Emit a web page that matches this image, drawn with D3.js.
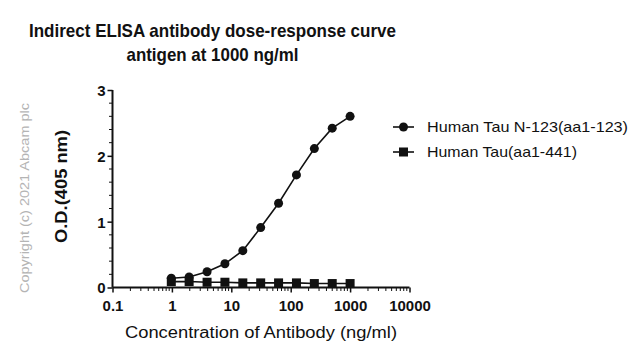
<!DOCTYPE html>
<html><head><meta charset="utf-8">
<script src="https://cdn.jsdelivr.net/npm/d3@7"></script>
<style>body{margin:0;background:#fff}svg{display:block}</style>
</head><body>
<svg id="c" width="642" height="358"></svg>
<script>
const concentrations = [0.977, 1.95, 3.91, 7.81, 15.63, 31.25, 62.5, 125, 250, 500, 1000];
const tauN123 = [0.14, 0.16, 0.24, 0.36, 0.56, 0.91, 1.28, 1.71, 2.11, 2.42, 2.60];
const tauFull = [0.09, 0.09, 0.08, 0.08, 0.07, 0.07, 0.07, 0.07, 0.06, 0.06, 0.06];
const seriesNames = ["Human Tau N-123(aa1-123)", "Human Tau(aa1-441)"];
const xTickValues = [0.1, 1, 10, 100, 1000, 10000];
const yTickValues = [0, 1, 2, 3];
const titleLines = ["Indirect ELISA antibody dose-response curve", "antigen at 1000 ng/ml"];

const svg = d3.select("#c");
const font = "'Liberation Sans', Arial, sans-serif";
const x = d3.scaleLog().domain([0.1, 10000]).range([112.5, 409.5]);
const y = d3.scaleLinear().domain([0, 3]).range([287.5, 90]);

// title
const titleLens = [367, 172];
svg.append("g").selectAll("text").data(titleLines).join("text")
  .attr("x", 212.5).attr("y", (d, i) => 37 + i * 23.5)
  .attr("text-anchor", "middle").attr("font-family", font).attr("font-weight", "bold")
  .attr("font-size", 18.5).attr("fill", "#111")
  .attr("textLength", (d, i) => titleLens[i]).attr("lengthAdjust", "spacingAndGlyphs")
  .text(d => d);

// copyright
svg.append("text").attr("transform", "translate(29,198) rotate(-90)")
  .attr("text-anchor", "middle").attr("font-family", font).attr("font-size", 13)
  .attr("textLength", 190).attr("lengthAdjust", "spacingAndGlyphs")
  .attr("fill", "#b4b4b4").text("Copyright (c) 2021 Abcam plc");

// y label
svg.append("text").attr("transform", "translate(67,186.5) rotate(-90)")
  .attr("text-anchor", "middle").attr("font-family", font).attr("font-weight", "bold")
  .attr("font-size", 16.5).attr("textLength", 113).attr("lengthAdjust", "spacingAndGlyphs")
  .attr("fill", "#111").text("O.D.(405 nm)");

// x label
svg.append("text").attr("x", 261).attr("y", 338).attr("text-anchor", "middle")
  .attr("font-family", font).attr("font-size", 16).attr("fill", "#111")
  .attr("textLength", 272).attr("lengthAdjust", "spacingAndGlyphs")
  .text("Concentration of Antibody (ng/ml)");

// minor ticks
const xMinor = [];
for (let e = -1; e < 4; e++) for (let m = 2; m <= 9; m++) xMinor.push(m * Math.pow(10, e));
svg.append("g").selectAll("line").data(xMinor).join("line")
  .attr("x1", d => x(d)).attr("x2", d => x(d)).attr("y1", 287.5).attr("y2", 291)
  .attr("stroke", "#111").attr("stroke-width", 1);
const yMinor = d3.range(0, 3.01, 0.2).filter(v => Math.abs(v - Math.round(v)) > 1e-6);
svg.append("g").selectAll("line").data(yMinor).join("line")
  .attr("x1", 109).attr("x2", 112.5).attr("y1", d => y(d)).attr("y2", d => y(d))
  .attr("stroke", "#111").attr("stroke-width", 1);

// axes
const xAxis = svg.append("g").attr("transform", "translate(0,287.5)")
  .call(d3.axisBottom(x).tickValues(xTickValues).tickFormat(d3.format("~g")).tickSize(5).tickSizeOuter(0));
const yAxis = svg.append("g").attr("transform", "translate(112.5,0)")
  .call(d3.axisLeft(y).tickValues(yTickValues).tickFormat(d3.format("d")).tickSize(5).tickSizeOuter(0));
[xAxis, yAxis].forEach(a => {
  a.select(".domain").attr("stroke", "#111").attr("stroke-width", 2);
  a.selectAll(".tick line").attr("stroke", "#111").attr("stroke-width", 1.5);
  a.selectAll("text").attr("font-family", font).attr("font-weight", "bold")
    .attr("font-size", 15).attr("fill", "#111");
});
xAxis.selectAll("text").attr("dy", "1em").attr("y", 8);
yAxis.selectAll("text").attr("x", -7).attr("dy", "0.36em");
yAxis.select(".domain").attr("d", `M0,${y(3)}V${y(0)}`);
xAxis.select(".domain").attr("d", `M${x(0.1)},0H${x(10000)}`);

// series
const line = d3.line().x(d => x(d[0])).y(d => y(d[1]));
const s1 = concentrations.map((c, i) => [c, tauN123[i]]);
const s2 = concentrations.map((c, i) => [c, tauFull[i]]);
svg.append("path").datum(s1).attr("d", line).attr("fill", "none").attr("stroke", "#111").attr("stroke-width", 1.6);
svg.append("g").selectAll("circle").data(s1).join("circle")
  .attr("cx", d => x(d[0])).attr("cy", d => y(d[1])).attr("r", 4.5).attr("fill", "#111");
svg.append("path").datum(s2).attr("d", line).attr("fill", "none").attr("stroke", "#111").attr("stroke-width", 1.6);
svg.append("g").selectAll("rect").data(s2).join("rect")
  .attr("x", d => x(d[0]) - 4.5).attr("y", d => y(d[1]) - 4.5).attr("width", 9).attr("height", 9).attr("fill", "#111");

// legend
const legendLens = [201, 150];
const lg = svg.append("g");
seriesNames.forEach((n, i) => {
  const ly = 127 + i * 25;
  lg.append("line").attr("x1", 393).attr("x2", 414).attr("y1", ly).attr("y2", ly)
    .attr("stroke", "#111").attr("stroke-width", 1.6);
  if (i === 0) lg.append("circle").attr("cx", 403.5).attr("cy", ly).attr("r", 4.5).attr("fill", "#111");
  else lg.append("rect").attr("x", 399).attr("y", ly - 4.5).attr("width", 9).attr("height", 9).attr("fill", "#111");
  lg.append("text").attr("x", 427).attr("y", ly).attr("dy", "0.36em")
    .attr("font-family", font).attr("font-size", 15).attr("fill", "#111")
    .attr("textLength", legendLens[i]).attr("lengthAdjust", "spacingAndGlyphs").text(n);
});
</script>
</body></html>
